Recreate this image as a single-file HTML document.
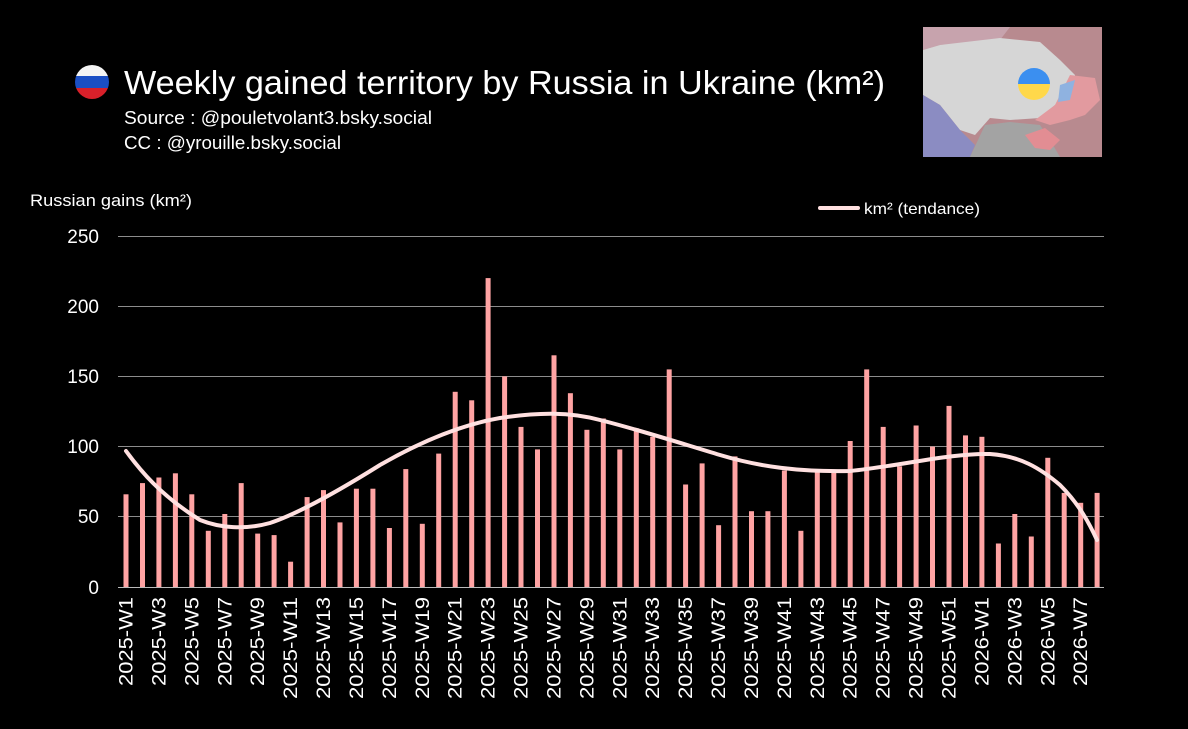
<!DOCTYPE html>
<html><head><meta charset="utf-8"><style>
html,body{margin:0;padding:0;background:#000;width:1188px;height:729px;overflow:hidden}
svg{display:block;font-family:"Liberation Sans","DejaVu Sans",sans-serif}
</style></head><body>
<svg width="1188" height="729" viewBox="0 0 1188 729" xmlns="http://www.w3.org/2000/svg">
<rect width="1188" height="729" fill="#000"/>
<defs><clipPath id="fc"><circle cx="92" cy="82" r="17"/></clipPath>
<clipPath id="uc"><circle cx="1034" cy="84" r="16"/></clipPath>
<clipPath id="mc"><rect x="923" y="27" width="179" height="130"/></clipPath></defs>
<g clip-path="url(#fc)"><rect x="74" y="64" width="36" height="12" fill="#f4f4f4"/><rect x="74" y="76" width="36" height="12" fill="#1b4fc4"/><rect x="74" y="88" width="36" height="12" fill="#d8202a"/></g>
<text x="124" y="94" fill="#fff" font-size="33" textLength="761" lengthAdjust="spacingAndGlyphs">Weekly gained territory by Russia in Ukraine (km²)</text>
<text x="124" y="124" fill="#fff" font-size="18" textLength="308" lengthAdjust="spacingAndGlyphs">Source : @pouletvolant3.bsky.social</text>
<text x="124" y="149" fill="#fff" font-size="18" textLength="217" lengthAdjust="spacingAndGlyphs">CC : @yrouille.bsky.social</text>
<g clip-path="url(#mc)">
<rect x="923" y="27" width="179" height="130" fill="#9a9a9a"/>
<polygon points="923,27 1102,27 1102,157 923,157" fill="#b88a8f"/>
<polygon points="923,27 1010,27 1000,40 940,45 923,50" fill="#c7a3ad"/>
<polygon points="923,50 940,45 1000,38 1040,42 1060,60 1075,75 1075,95 1055,105 1040,118 1010,120 990,118 975,135 960,130 940,105 923,95" fill="#d6d6d6"/>
<polygon points="923,95 940,105 960,130 975,145 970,157 923,157" fill="#8b8cc2"/>
<polygon points="970,157 985,125 1010,122 1040,125 1050,140 1060,157" fill="#a3a3a3"/>
<polygon points="1055,105 1070,75 1095,78 1100,100 1085,115 1070,120 1050,125 1035,120" fill="#e29a9f"/>
<polygon points="1025,135 1045,128 1060,140 1050,150 1035,148" fill="#e28d93"/>
<polygon points="1060,85 1075,80 1070,100 1058,102" fill="#8fb2e0"/>
</g>
<g clip-path="url(#uc)"><rect x="1018" y="68" width="32" height="16" fill="#3b8ff0"/><rect x="1018" y="84" width="32" height="16" fill="#ffd84a"/></g>
<text x="30" y="206" fill="#fff" font-size="17" textLength="162" lengthAdjust="spacingAndGlyphs">Russian gains (km²)</text>
<line x1="820" y1="208" x2="858" y2="208" stroke="#ffe0e0" stroke-width="4" stroke-linecap="round"/>
<text x="864" y="214" fill="#fff" font-size="16" textLength="116" lengthAdjust="spacingAndGlyphs">km² (tendance)</text>
<g stroke="#8c8c8c" stroke-width="1">
<line x1="118" y1="236.5" x2="1104" y2="236.5"/>
<line x1="118" y1="306.5" x2="1104" y2="306.5"/>
<line x1="118" y1="376.5" x2="1104" y2="376.5"/>
<line x1="118" y1="446.5" x2="1104" y2="446.5"/>
<line x1="118" y1="516.5" x2="1104" y2="516.5"/>
</g>
<line x1="118" y1="587.5" x2="1104" y2="587.5" stroke="#bbb" stroke-width="1"/>
<g fill="#fff" font-size="19" text-anchor="end">
<text x="99" y="243">250</text><text x="99" y="313">200</text><text x="99" y="383">150</text>
<text x="99" y="453">100</text><text x="99" y="523">50</text><text x="99" y="594">0</text>
</g>
<g id="bars" fill="#ffa3a3"></g>
<g id="labels" fill="#fff" font-size="19"></g>
<path d="M126,451 C140,470 160,495 200,520 C220,528 245,530 270,523 C300,513 340,490 380,465 C420,442 460,425 500,418 C540,412 570,412 600,420 C640,430 680,443 720,455 C760,467 800,472 850,471 C900,466 950,453 990,454 C1020,456 1040,468 1060,485 C1080,505 1090,525 1097,540" fill="none" stroke="#ffe0e0" stroke-width="4" stroke-linecap="round"/>
<script>
var v=[66,74,78,81,66,40,52,74,38,37,18,64,69,46,70,70,42,84,45,95,139,133,220,150,114,98,165,138,112,120,98,113,107,155,73,88,44,93,54,54,83,40,82,82,104,155,114,86,115,100,129,108,107,31,52,36,92,67,60,67];
var b=document.getElementById('bars'),l=document.getElementById('labels'),ns='http://www.w3.org/2000/svg';
for(var i=0;i<60;i++){var x=126+i*16.46;var h=v[i]*1.404;
var r=document.createElementNS(ns,'rect');r.setAttribute('x',(x-2.5).toFixed(1));r.setAttribute('y',(587-h).toFixed(1));r.setAttribute('width','5');r.setAttribute('height',h.toFixed(1));b.appendChild(r);
if(i%2==0){var t=document.createElementNS(ns,'text');var lab=i<52?'2025-W'+(i+1):'2026-W'+(i-51);
t.setAttribute('transform','translate('+(x+6.5).toFixed(1)+',597) rotate(-90)');t.setAttribute('text-anchor','end');
t.setAttribute('textLength',(lab.length*12.7).toFixed(0));t.setAttribute('lengthAdjust','spacingAndGlyphs');
t.textContent=lab;l.appendChild(t);}}
</script>
</svg>
</body></html>
